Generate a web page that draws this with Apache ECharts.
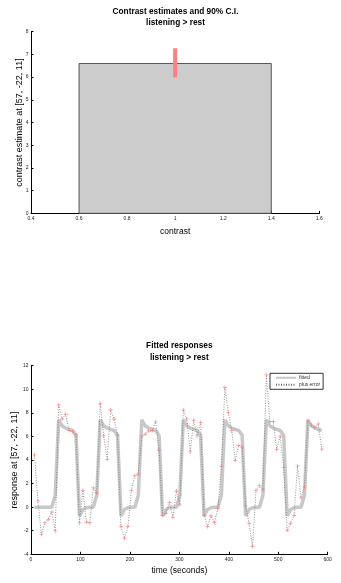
<!DOCTYPE html>
<html>
<head>
<meta charset="utf-8">
<script src="https://cdn.jsdelivr.net/npm/echarts@6/dist/echarts.min.js"></script>
<style>
html,body{margin:0;padding:0;background:#fff;}
#c{width:341px;height:583px;}
</style>
</head>
<body>
<div id="c"></div>
<script>
// ---- Top panel data ----
const contrastX = [1];
const contrastEstimate = [6.6];
const ciLow = [5.98];
const ciHigh = [7.27];
const topXTicks = [0.4, 0.6, 0.8, 1, 1.2, 1.4, 1.6];

// ---- Bottom panel data ----
const scanTimes = [7,14,21,28,35,42,49,56,63,70,77,84,91,98,105,112,119,126,133,140,147,154,161,168,175,182,189,196,203,210,217,224,231,238,245,252,259,266,273,280,287,294,301,308,315,322,329,336,343,350,357,364,371,378,385,392,399,406,413,420,427,434,441,448,455,462,469,476,483,490,497,504,511,518,525,532,539,546,553,560,567,574,581,588];
const fitted = [
  0,0,0,0,0,0, 1.0,7.4,6.9,6.7,6.6,6.5,
  6.1,-0.75,-0.2,-0.05,0,0, 1.0,7.4,6.9,6.7,6.6,6.5,
  6.1,-0.75,-0.2,-0.05,0,0, 1.0,7.4,6.9,6.7,6.6,6.5,
  6.1,-0.75,-0.2,-0.05,0,0, 1.0,7.4,6.9,6.7,6.6,6.5,
  6.1,-0.75,-0.2,-0.05,0,0, 1.0,7.4,6.9,6.7,6.6,6.5,
  6.1,-0.75,-0.2,-0.05,0,0, 1.0,7.4,6.9,6.7,6.6,6.5,
  6.1,-0.75,-0.2,-0.05,0,0, 1.0,7.4,6.9,6.7,6.6,6.5
];
const plusError = [
  4.43,0.53,-2.33,-1.34,-1.03,-0.41,-2.02,8.67,7.48,7.88,6.52,6.41,
  6.12,-1.34,1.43,-1.28,-1.34,1.63,1.18,8.81,6.04,4.06,8.24,7.48,
  6.10,-1.65,-2.64,-1.65,1.40,2.67,2.80,6.02,6.20,6.46,6.48,7.23,
  4.85,-0.69,-0.52,0.38,-0.86,1.37,0.20,8.25,7.47,4.69,7.38,6.05,
  7.19,-0.69,-1.65,-0.75,-1.31,-0.12,3.47,10.15,8.02,6.49,3.95,5.26,
  5.10,0.10,-1.37,-3.34,1.44,1.82,1.46,11.22,7.26,7.26,4.88,6.02,
  3.37,-1.99,-1.37,-0.69,3.50,0.78,1.72,7.32,6.96,6.75,7.07,4.92
];
const bottomXTicks = [0,100,200,300,400,500,600];
const bottomYTicks = [-4,-2,0,2,4,6,8,10,12];

const BAR_HALF_WIDTH = 0.4;
const FONT = 'Liberation Sans, Arial, Helvetica, sans-serif';

const chart = echarts.init(document.getElementById('c'), null, {renderer: 'canvas'});

const fittedData = scanTimes.map((t, i) => [t, fitted[i]]);
const errorData = scanTimes.map((t, i) => [t, plusError[i]]);

function axisCommon() {
  return {
    nameMoveOverlap: false,
    axisLine: {show: true, onZero: false, lineStyle: {color: '#000', width: 1}},
    axisTick: {show: true, inside: true, length: 2.5, lineStyle: {color: '#000', width: 1}},
    splitLine: {show: false},
    axisLabel: {fontSize: 5, color: '#222', fontFamily: FONT, margin: 2.5},
    nameTextStyle: {fontSize: 8.5, color: '#000', fontFamily: FONT}
  };
}

const option = {
  animation: false,
  backgroundColor: '#fff',
  title: [
    {
      text: 'Contrast estimates and 90% C.I.\nlistening > rest',
      left: 175.5, top: 5.8, textAlign: 'center', padding: 0,
      textStyle: {fontSize: 8.3, fontWeight: 'bold', color: '#000', fontFamily: FONT, lineHeight: 11.6}
    },
    {
      text: 'Fitted responses\nlistening > rest',
      left: 179.3, top: 339.7, textAlign: 'center', padding: 0,
      textStyle: {fontSize: 8.3, fontWeight: 'bold', color: '#000', fontFamily: FONT, lineHeight: 12}
    }
  ],
  legend: {
    data: ['fitted', 'plus error'],
    orient: 'vertical',
    left: 270, top: 373.3,
    padding: [2, 3, 2, 5],
    itemGap: 2,
    itemWidth: 20, itemHeight: 6,
    borderColor: '#000', borderWidth: 0.8,
    backgroundColor: '#fff',
    itemStyle: {opacity: 0, borderWidth: 0},
    textStyle: {fontSize: 5, color: '#333', fontFamily: FONT, padding: [0,0,0,-2]},
    selectedMode: false
  },
  grid: [
    {left: 31, right: 21.7, top: 31.7, bottom: 369.7},
    {left: 31, right: 13.3, top: 365.7, bottom: 28.7}
  ],
  xAxis: [
    Object.assign(axisCommon(), {
      type: 'value', gridIndex: 0, min: 0.4, max: 1.6, interval: 0.2,
      name: 'contrast', nameLocation: 'middle', nameGap: 13.5
    }),
    Object.assign(axisCommon(), {
      type: 'value', gridIndex: 1, min: 0, max: 600, interval: 100,
      name: 'time (seconds)', nameLocation: 'middle', nameGap: 12
    })
  ],
  yAxis: [
    Object.assign(axisCommon(), {
      type: 'value', gridIndex: 0, min: 0, max: 8, interval: 1,
      name: 'contrast estimate at [57, -22, 11]', nameLocation: 'middle', nameGap: 7,
      nameTextStyle: {fontSize: 9, color: '#000', fontFamily: FONT}
    }),
    Object.assign(axisCommon(), {
      type: 'value', gridIndex: 1, min: -4, max: 12, interval: 2,
      name: 'response at [57, -22, 11]', nameLocation: 'middle', nameGap: 11.5,
      nameTextStyle: {fontSize: 9, color: '#000', fontFamily: FONT}
    })
  ],
  series: [
    {
      type: 'custom',
      xAxisIndex: 0, yAxisIndex: 0,
      data: contrastX.map((x, i) => [x, contrastEstimate[i]]),
      renderItem: function (params, api) {
        const x = api.value(0), y = api.value(1);
        const a = api.coord([x - BAR_HALF_WIDTH, 0]);
        const b = api.coord([x + BAR_HALF_WIDTH, y]);
        return {
          type: 'rect',
          shape: {x: a[0], y: b[1], width: b[0] - a[0], height: a[1] - b[1]},
          style: {fill: '#cccccc', stroke: '#555', lineWidth: 1}
        };
      },
      z: 2
    },
    {
      type: 'line',
      xAxisIndex: 0, yAxisIndex: 0,
      data: [[contrastX[0], ciLow[0]], [contrastX[0], ciHigh[0]]],
      symbol: 'none',
      lineStyle: {color: '#ff8080', width: 4, cap: 'butt'},
      z: 3
    },
    {
      name: 'fitted',
      type: 'line',
      xAxisIndex: 1, yAxisIndex: 1,
      data: fittedData,
      symbol: 'none',
      color: '#c8c8c8',
      lineStyle: {color: '#c8c8c8', width: 3.5},
      z: 2
    },
    {
      name: 'plus error',
      type: 'line',
      xAxisIndex: 1, yAxisIndex: 1,
      data: errorData,
      symbol: 'none',
      color: '#666',
      lineStyle: {color: '#666', width: 0.7, type: [1, 1.5]},
      z: 3
    },
    {
      type: 'scatter',
      xAxisIndex: 1, yAxisIndex: 1,
      data: errorData,
      symbol: 'path://M2,0h1v2h2v1h-2v2h-1v-2h-2v-1h2z',
      symbolSize: 4,
      itemStyle: {color: '#ff8080'},
      z: 4
    }
  ]
};
chart.setOption(option);
</script>
</body>
</html>
